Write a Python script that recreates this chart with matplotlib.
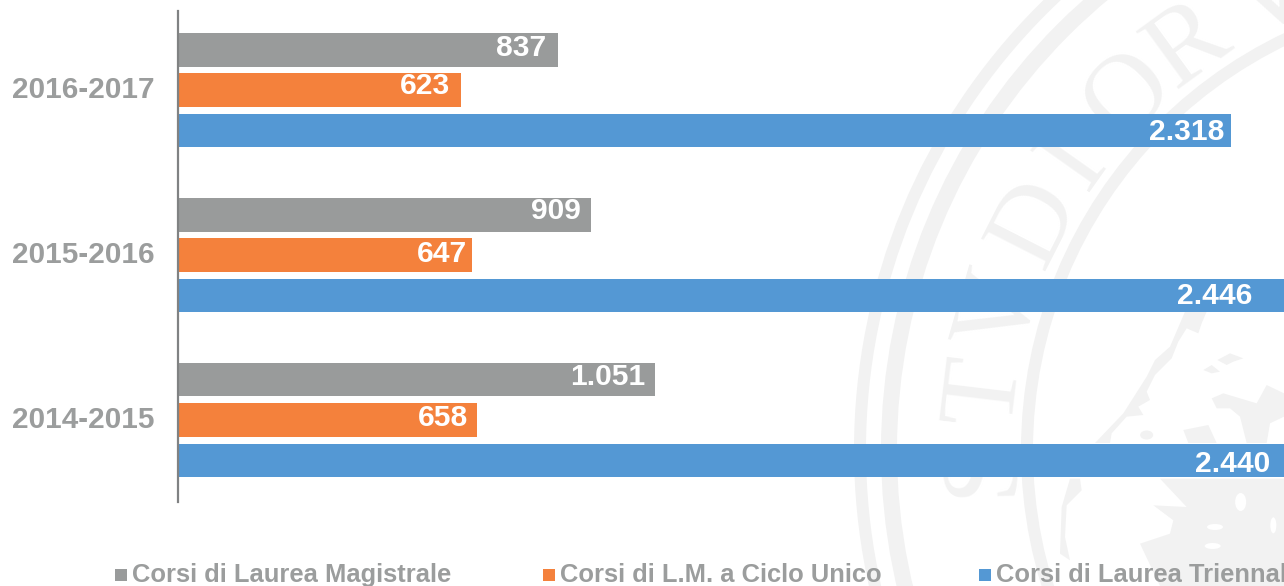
import matplotlib
matplotlib.use("Agg")
import matplotlib.pyplot as plt
from matplotlib.patches import Circle, Polygon, Ellipse, Rectangle
import numpy as np

plt.rcParams['font.family'] = ['Liberation Sans', 'DejaVu Sans']

years = ['2014-2015', '2015-2016', '2016-2017']
magistrale = [1051, 909, 837]
ciclo_unico = [658, 647, 623]
triennale = [2440, 2446, 2318]
series_names = ['Corsi di Laurea Magistrale', 'Corsi di L.M. a Ciclo Unico', 'Corsi di Laurea Triennale']

gray = '#999b9b'
orange = '#f4813c'
blue = '#5498d4'
label_gray = '#9b9d9d'
seal = '#f2f2f2'

fig = plt.figure(figsize=(12.84, 5.86), dpi=100)

# background seal, drawn in pixel coordinates
bg = fig.add_axes([0, 0, 1, 1], zorder=-1)
bg.set_xlim(0, 1284)
bg.set_ylim(586, 0)
bg.axis('off')
cx, cy = 1483, 450
for r, w in [(623, 12), (594, 16), (456, 12)]:
    bg.add_patch(Circle((cx, cy), r, fill=False, ec=seal, lw=w * 0.72))

seal_letters = ['S', 'T', 'V', 'D', 'I', 'O', 'R', 'V']
seal_angles = [181.7, 173.2, 164, 153, 144.7, 135, 126, 115]
for letter, a in zip(seal_letters, seal_angles):
    t = np.radians(a)
    bg.text(cx + 500 * np.cos(t), cy - 500 * np.sin(t), letter, family='Liberation Serif',
            fontsize=80, color=seal, rotation=a - 90, rotation_mode='anchor',
            ha='center', va='center')

# rough shape of the lion
upper = [
    [(315, 5), (380, 5), (365, 40), (355, 70), (320, 55), (295, 95), (275, 145), (225, 195),
     (200, 245), (210, 270), (175, 290), (190, 315), (140, 320), (95, 370), (90, 399), (45, 399),
     (130, 310), (200, 200), (225, 150), (270, 110)],
    [(395, 265), (430, 250), (530, 280), (560, 225), (612, 250), (612, 320), (570, 340), (560, 399),
     (500, 399), (480, 320), (450, 295), (410, 295)],
    [(310, 360), (385, 345), (410, 399), (325, 399)],
    [(412, 150), (450, 130), (490, 145), (460, 155), (440, 165)],
    [(370, 180), (395, 165), (420, 185), (395, 190)],
]
for pts in upper:
    bg.add_patch(Polygon([(1080 + x / 3, 310 + y / 3) for x, y in pts], fc=seal, ec='none'))
bg.add_patch(Ellipse((1080 + 200 / 3, 310 + 375 / 3), 13, 9, fc=seal, ec='none'))

lower = [
    [(30, 5), (60, 5), (65, 40), (20, 85), (15, 180), (30, 250), (0, 230), (5, 90)],
    [(300, 5), (672, 5), (672, 327), (300, 327), (240, 200), (330, 170), (340, 130), (280, 85), (380, 90)],
]
for pts in lower:
    bg.add_patch(Polygon([(1060 + x / 3, 477 + y / 3) for x, y in pts], fc=seal, ec='none'))
for ex, ey, ew, eh in [(465, 150, 16, 6), (458, 207, 16, 6), (542, 75, 11, 18), (640, 145, 6, 16)]:
    bg.add_patch(Ellipse((1060 + ex / 3, 477 + ey / 3), ew, eh, fc='white', ec='none'))

# bars
ax = fig.add_axes([178 / 1284, (586 - 502) / 586, (1284 - 178) / 1284, 491 / 586])
ax.patch.set_alpha(0)
y = np.arange(len(years))
h = 0.205
off = 0.245
ax.barh(y + off, magistrale, h, color=gray)
ax.barh(y, ciclo_unico, h, color=orange)
ax.barh(y - off, triennale, h, color=blue)
ax.set_xlim(0, 1106 / 0.4543)
ax.set_ylim(-0.497, 2.479)

for s in ['top', 'right', 'bottom']:
    ax.spines[s].set_visible(False)
ax.spines['left'].set_color('#808283')
ax.spines['left'].set_linewidth(1.6)
ax.set_xticks([])
# labels sit a little above the group centre
ax.set_yticks(y + 0.018, years, fontsize=21.4, fontweight='bold', color=label_gray)
ax.tick_params(axis='y', length=0, pad=17)

# value labels keep the uneven placement of the original: (pixels left of bar end, pixels up)
shifts = [
    [(10, 6), (10, 7), (12, 5)],
    [(9, 5), (5, 4), (11, 7)],
    [(16, -1), (37, 2), (7, 1)],
]
for vals, pos, shift in zip([magistrale, ciclo_unico, triennale], [off, 0, -off], shifts):
    for i, v in enumerate(vals):
        txt = f'{v // 1000}.{v % 1000:03d}' if v >= 1000 else str(v)
        ax.annotate(txt, (v, i + pos), xytext=(-shift[i][0] * 0.72, shift[i][1] * 0.72),
                    textcoords='offset points', ha='right', va='center_baseline', fontsize=21.6,
                    fontweight='bold', color='white', annotation_clip=False)

# legend placed by hand, the last entry runs off the edge as in the original
for name, c, sx, tx in zip(series_names, [gray, orange, blue], [115, 543, 979], [132, 560, 996]):
    bg.add_patch(Rectangle((sx, 569), 12, 12, fc=c, ec='none'))
    bg.text(tx, 575, name, fontsize=18.4, fontweight='bold', color=label_gray, va='center', ha='left')

fig.savefig('out.png', dpi=100)
